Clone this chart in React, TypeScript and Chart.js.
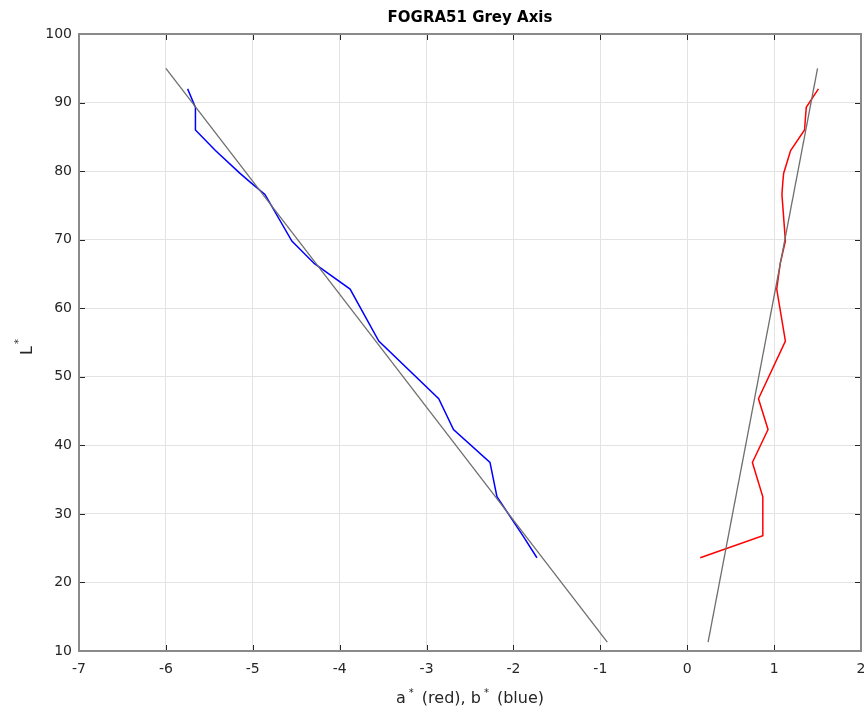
import React, { useEffect, useRef } from "react";
import { Chart, registerables } from "chart.js";

Chart.register(...registerables);

const TITLE = "FOGRA51 Grey Axis";
const X_TICKS = [-7, -6, -5, -4, -3, -2, -1, 0, 1, 2];
const Y_TICKS = [10, 20, 30, 40, 50, 60, 70, 80, 90, 100];

// L* sample levels
const lValues = [92, 89.3, 86, 83, 79.7, 78.4, 76.6, 69.8, 66.5, 62.8, 55.2, 46.8, 42.3, 37.5, 32.5, 26.8, 23.6];
// b* (blue)
const bValues = [-5.75, -5.66, -5.66, -5.43, -5.15, -5.03, -4.86, -4.55, -4.29, -3.88, -3.55, -2.86, -2.69, -2.27, -2.19, -1.89, -1.73];
// a* (red)
const aValues = [1.51, 1.37, 1.35, 1.19, 1.11, 1.1, 1.09, 1.13, 1.07, 1.03, 1.13, 0.82, 0.93, 0.75, 0.87, 0.87, 0.15];

// fitted grey lines
const fitL = [95, 11.3];
const bFit = [-6, -0.92];
const aFit = [1.5, 0.24];

const toPts = (xs: number[], ys: number[]) => xs.map((x, i) => ({ x, y: ys[i] }));

const FONT = "'DejaVu Sans', 'Liberation Sans', Arial, sans-serif";

const decorPlugin = {
  id: "decor",
  afterDraw(chart: any) {
    const { ctx, chartArea } = chart;
    const { left, right, top, bottom } = chartArea;
    const xs = chart.scales.x;
    const ys = chart.scales.y;
    ctx.save();
    // inward tick marks
    ctx.strokeStyle = "#262626";
    ctx.lineWidth = 1;
    ctx.beginPath();
    X_TICKS.forEach((v) => {
      const px = Math.round(xs.getPixelForValue(v)) + 0.5;
      ctx.moveTo(px, bottom);
      ctx.lineTo(px, bottom - 6);
      ctx.moveTo(px, top);
      ctx.lineTo(px, top + 6);
    });
    Y_TICKS.forEach((v) => {
      const py = Math.round(ys.getPixelForValue(v)) + 0.5;
      ctx.moveTo(left, py);
      ctx.lineTo(left + 6, py);
      ctx.moveTo(right, py);
      ctx.lineTo(right - 6, py);
    });
    ctx.stroke();
    // box
    ctx.strokeStyle = "#8a8a8a";
    ctx.lineWidth = 2;
    ctx.beginPath();
    ctx.moveTo(left, top);
    ctx.lineTo(right, top);
    ctx.lineTo(right, bottom);
    ctx.lineTo(left, bottom);
    ctx.closePath();
    ctx.stroke();

    // title
    ctx.fillStyle = "#000";
    ctx.font = `bold 15px ${FONT}`;
    ctx.textAlign = "center";
    ctx.textBaseline = "middle";
    ctx.fillText(TITLE, (left + right) / 2, 18);

    // x axis label with superscripts
    const parts: [string, boolean][] = [
      ["a", false],
      ["*", true],
      [" (red), b", false],
      ["*", true],
      [" (blue)", false],
    ];
    const mainFont = `16px ${FONT}`;
    const supFont = `10px ${FONT}`;
    let total = 0;
    parts.forEach(([t, sup]) => {
      ctx.font = sup ? supFont : mainFont;
      total += ctx.measureText(t).width + (sup ? 6 : 0);
    });
    let cx = (left + right) / 2 - total / 2;
    ctx.textAlign = "left";
    ctx.textBaseline = "alphabetic";
    ctx.fillStyle = "#262626";
    parts.forEach(([t, sup]) => {
      ctx.font = sup ? supFont : mainFont;
      if (sup) {
        ctx.fillText(t, cx + 3, 696);
        cx += ctx.measureText(t).width + 6;
      } else {
        ctx.fillText(t, cx, 703);
        cx += ctx.measureText(t).width;
      }
    });

    // y axis label L*
    ctx.save();
    ctx.translate(32, 347);
    ctx.rotate(-Math.PI / 2);
    ctx.font = `16px ${FONT}`;
    const wL = ctx.measureText("L").width;
    ctx.font = `10px ${FONT}`;
    const wS = ctx.measureText("*").width;
    const start = -(wL + wS + 2) / 2;
    ctx.font = `16px ${FONT}`;
    ctx.fillText("L", start, 0);
    ctx.font = `10px ${FONT}`;
    ctx.fillText("*", start + wL + 2, -10);
    ctx.restore();

    ctx.restore();
  },
};

export default function App() {
  const ref = useRef<HTMLCanvasElement | null>(null);

  useEffect(() => {
    if (!ref.current) return;
    const chart = new Chart(ref.current, {
      type: "scatter",
      data: {
        datasets: [
          {
            label: "b* fit",
            data: toPts(bFit, fitL),
            showLine: true,
            borderColor: "#6e6e6e",
            borderWidth: 1.3,
            pointRadius: 0,
          },
          {
            label: "a* fit",
            data: toPts(aFit, fitL),
            showLine: true,
            borderColor: "#6e6e6e",
            borderWidth: 1.3,
            pointRadius: 0,
          },
          {
            label: "b*",
            data: toPts(bValues, lValues),
            showLine: true,
            borderColor: "#0000ff",
            borderWidth: 1.5,
            pointRadius: 0,
          },
          {
            label: "a*",
            data: toPts(aValues, lValues),
            showLine: true,
            borderColor: "#ff0000",
            borderWidth: 1.5,
            pointRadius: 0,
          },
        ],
      },
      options: {
        animation: false,
        responsive: true,
        maintainAspectRatio: false,
        layout: { padding: { left: 0, right: 5, top: 34, bottom: 0 } },
        plugins: {
          legend: { display: false },
          title: { display: false },
          tooltip: { enabled: false },
        },
        scales: {
          x: {
            type: "linear",
            min: -7,
            max: 2,
            afterFit: (s: any) => {
              s.height = 712 - 651;
              s.paddingLeft = 0;
              s.paddingRight = 0;
            },
            afterBuildTicks: (s: any) => {
              s.ticks = X_TICKS.map((v) => ({ value: v }));
            },
            ticks: {
              font: { family: FONT, size: 14 },
              color: "#262626",
              padding: 10,
              maxRotation: 0,
            },
            grid: { color: "#e3e3e3", lineWidth: 1, drawTicks: false },
            border: { display: false },
          },
          y: {
            type: "linear",
            min: 10,
            max: 100,
            afterFit: (s: any) => {
              s.width = 79;
              s.paddingTop = 0;
              s.paddingBottom = 0;
            },
            afterBuildTicks: (s: any) => {
              s.ticks = Y_TICKS.map((v) => ({ value: v }));
            },
            ticks: {
              font: { family: FONT, size: 14 },
              color: "#262626",
              padding: 7,
            },
            grid: { color: "#e3e3e3", lineWidth: 1, drawTicks: false },
            border: { display: false },
          },
        },
      },
      plugins: [decorPlugin],
    });
    return () => chart.destroy();
  }, []);

  return (
    <div style={{ position: "absolute", left: 0, top: 0, width: 866, height: 712, background: "#fff" }}>
      <canvas ref={ref} />
    </div>
  );
}
